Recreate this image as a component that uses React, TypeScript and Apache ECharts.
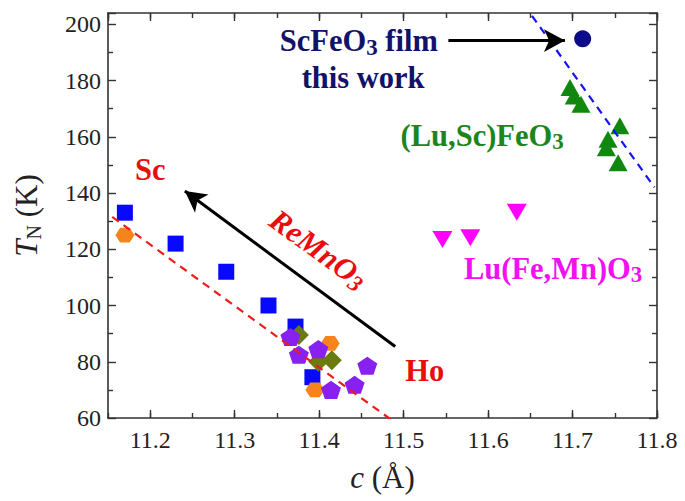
import React, { useEffect, useRef } from "react";
import * as echarts from "echarts";

const FONT = '"Liberation Serif", "Times New Roman", serif';

// Data
const blueSquares = [[11.17, 133], [11.23, 122], [11.29, 112], [11.34, 100], [11.372, 92.5], [11.392, 74.5]];
const orangeHexagons = [[11.17, 125], [11.413, 86.5], [11.395, 70]];
const oliveDiamonds = [[11.376, 89.5], [11.399, 80], [11.415, 80.5]];
const purplePentagons = [[11.366, 88.8], [11.376, 82.5], [11.399, 84.5], [11.414, 70], [11.442, 71.8], [11.457, 78.6]];
const greenTriangles = [[11.697, 177.5], [11.702, 174.5], [11.71, 171.6], [11.756, 163.9], [11.742, 159.1], [11.74, 156.1], [11.754, 150.8]];
const magentaTriangles = [[11.546, 123.5], [11.579, 124.1], [11.634, 133.2]];
const navyCircle = [[11.712, 194.8]];
const redFitLine = [[11.155, 131.5], [11.487, 59]];
const blueFitLine = [[11.652, 203], [11.797, 142]];
const bigArrow = [[11.49, 85.4], [11.241, 140.7]];
const filmArrow = [[11.553, 194.2], [11.691, 194.2]];

const xMin = 11.15;
const xMax = 11.8;
const yMin = 60;
const yMax = 204;

const NAVY = "#121268";
const GREEN = "#1b861b";
const MAGENTA = "#f010f0";
const RED = "#e80e0e";

const HEX = "path://M-1,0 L-0.5,-0.866 L0.5,-0.866 L1,0 L0.5,0.866 L-0.5,0.866 Z";
const PENT = "path://M0,-1 L0.951,-0.309 L0.588,0.809 L-0.588,0.809 L-0.951,-0.309 Z";

function mk(color: string, sub = false, italic = false) {
  return sub
    ? { fontSize: 23, fontWeight: "bold", color, fontFamily: FONT, lineHeight: 14, verticalAlign: "bottom", fontStyle: italic ? "italic" : "normal", opacity: 1 }
    : { fontSize: 30.5, fontWeight: "bold", color, fontFamily: FONT, lineHeight: 35, fontStyle: italic ? "italic" : "normal", opacity: 1 };
}

const rich: any = {
  nv: mk(NAVY), nvs: mk(NAVY, true),
  gr: mk(GREEN), grs: mk(GREEN, true),
  mg: mk(MAGENTA), mgs: mk(MAGENTA, true),
  rd: mk(RED), rdi: mk(RED, false, true), rds: mk(RED, true, true),
};

const annotations = [
  { value: [11.447, 194.0], text: "{nv|ScFeO}{nvs|3}{nv| film}", rotate: 0 },
  { value: [11.452, 180.9], text: "{nv|this work}", rotate: 0 },
  { value: [11.593, 160.3], text: "{gr|(Lu,Sc)FeO}{grs|3}", rotate: 0 },
  { value: [11.677, 113.0], text: "{mg|Lu(Fe,Mn)O}{mgs|3}", rotate: 0 },
  { value: [11.2, 148.2], text: "{rd|Sc}", rotate: 0 },
  { value: [11.525, 76.6], text: "{rd|Ho}", rotate: 0 },
  { value: [11.399, 120.0], text: "{rdi|ReMnO}{rds|3}", rotate: -36 },
];

function scatter(name: string, data: number[][], symbol: string, size: any, color: string, extra: any = {}) {
  return {
    name,
    type: "scatter",
    data,
    symbol,
    symbolSize: size,
    symbolKeepAspect: true,
    itemStyle: { color, opacity: 1 },
    silent: true,
    z: 2,
    ...extra,
  };
}

export default function App() {
  const ref = useRef<HTMLDivElement>(null);
  useEffect(() => {
    if (!ref.current) return;
    const chart = echarts.init(ref.current, undefined, { renderer: "svg" });
    const axisLine = { show: true, lineStyle: { color: "#333", width: 1.6 } };
    const option: any = {
      animation: false,
      backgroundColor: "#fff",
      grid: { left: 108, right: 28, top: 13, bottom: 83, containLabel: false },
      xAxis: [
        {
          type: "value", position: "bottom", min: xMin, max: xMax, splitNumber: 6,
          axisLine, splitLine: { show: false },
          axisTick: { show: true, inside: true, length: 8, lineStyle: { color: "#333", width: 1.4 } },
          axisLabel: { show: true, margin: 10, fontSize: 24, color: "#222", fontFamily: FONT, showMinLabel: false, formatter: (v: number) => v.toFixed(1) },
          name: "{c|c}{n| (Å)}", nameLocation: "middle", nameGap: 44,
          nameTextStyle: { rich: { c: { fontSize: 31, fontStyle: "italic", fontFamily: FONT, color: "#222" }, n: { fontSize: 31, fontFamily: FONT, color: "#222" } } },
        },
        {
          type: "value", position: "bottom", min: xMin, max: xMax, interval: 0.05,
          axisLine: { show: false }, splitLine: { show: false }, axisLabel: { show: false },
          axisTick: { show: true, inside: true, length: 5, lineStyle: { color: "#333", width: 1.4 } },
        },
        {
          type: "value", position: "top", min: xMin, max: xMax, splitNumber: 6,
          axisLine, splitLine: { show: false }, axisLabel: { show: false },
          axisTick: { show: true, inside: true, length: 8, lineStyle: { color: "#333", width: 1.4 } },
        },
        {
          type: "value", position: "top", min: xMin, max: xMax, interval: 0.05,
          axisLine: { show: false }, splitLine: { show: false }, axisLabel: { show: false },
          axisTick: { show: true, inside: true, length: 5, lineStyle: { color: "#333", width: 1.4 } },
        },
      ],
      yAxis: [
        {
          type: "value", position: "left", min: yMin, max: yMax, interval: 20,
          axisLine, splitLine: { show: false },
          axisTick: { show: true, inside: true, length: 8, lineStyle: { color: "#333", width: 1.4 } },
          minorTick: { show: true, splitNumber: 2, length: 5, lineStyle: { color: "#333", width: 1.4 } },
          axisLabel: { show: true, margin: 7, fontSize: 24, color: "#222", fontFamily: FONT, showMaxLabel: false },
          name: "{t|T}{s|N}{n| (K)}", nameLocation: "middle", nameGap: 64,
          nameTextStyle: {
            rich: {
              t: { fontSize: 31, fontStyle: "italic", fontFamily: FONT, color: "#222", lineHeight: 36 },
              s: { fontSize: 20, fontFamily: FONT, color: "#222", lineHeight: 14, verticalAlign: "bottom" },
              n: { fontSize: 31, fontFamily: FONT, color: "#222", lineHeight: 36 },
            },
          },
        },
        {
          type: "value", position: "right", min: yMin, max: yMax, interval: 20,
          axisLine, splitLine: { show: false }, axisLabel: { show: false },
          axisTick: { show: true, inside: true, length: 8, lineStyle: { color: "#333", width: 1.4 } },
          minorTick: { show: true, splitNumber: 2, length: 5, lineStyle: { color: "#333", width: 1.4 } },
        },
      ],
      series: [
        scatter("ReMnO3 a", blueSquares, "rect", 16, "#0808ff"),
        scatter("ReMnO3 b", orangeHexagons, HEX, [19, 17], "#f7841a"),
        scatter("ReMnO3 c", oliveDiamonds, "diamond", [20, 20], "#6c7b10"),
        scatter("ReMnO3 d", purplePentagons, PENT, [20, 19], "#8820f0"),
        scatter("(Lu,Sc)FeO3", greenTriangles, "triangle", [19, 17], "#108810"),
        scatter("Lu(Fe,Mn)O3", magentaTriangles, "triangle", [20, 17], "#ff00ff", { symbolRotate: 180 }),
        scatter("ScFeO3 film", navyCircle, "circle", 17, "#0c0c88"),
        {
          name: "red fit", type: "line", data: redFitLine, symbol: "none", silent: true, z: 4, clip: true,
          lineStyle: { color: "#ee1c1c", width: 2.2, type: [8, 6] },
        },
        {
          name: "blue fit", type: "line", data: blueFitLine, symbol: "none", silent: true, z: 4, clip: true,
          lineStyle: { color: "#1515ee", width: 2.2, type: [8, 6] },
        },
        {
          name: "annotations", type: "scatter", silent: true, z: 5,
          symbolSize: 1, itemStyle: { color: "rgba(0,0,0,0)", opacity: 1 },
          data: annotations.map((a) => ({
            value: a.value,
            label: {
              show: true, position: "inside", formatter: a.text, rotate: a.rotate, rich,
              align: "center", verticalAlign: "middle", opacity: 1, textBorderWidth: 0,
            },
          })),
          markLine: {
            silent: true, animation: false, symbol: ["none", "arrow"], symbolSize: [17, 21],
            label: { show: false },
            lineStyle: { color: "#000", width: 3, type: "solid", opacity: 1 },
            emphasis: { disabled: true },
            data: [
              [{ coord: bigArrow[0] }, { coord: bigArrow[1] }],
              [{ coord: filmArrow[0] }, { coord: filmArrow[1] }],
            ],
          },
        },
      ],
    };
    chart.setOption(option);
    return () => chart.dispose();
  }, []);
  return <div ref={ref} style={{ position: "fixed", left: 0, top: 0, width: 685, height: 501, background: "#fff" }} />;
}
